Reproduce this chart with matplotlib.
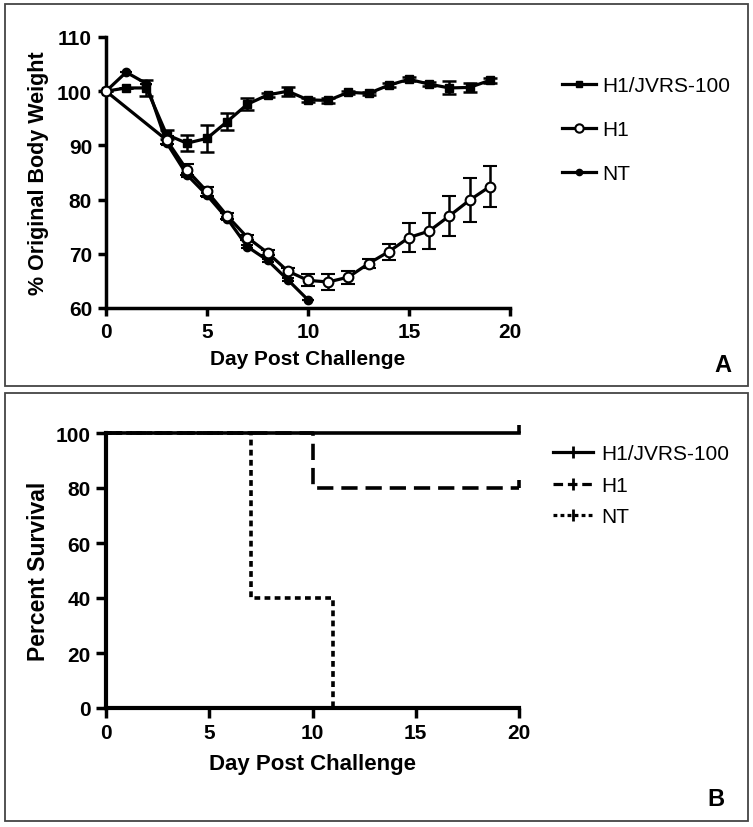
import matplotlib
matplotlib.use('Agg')
import matplotlib.pyplot as plt
from matplotlib.patches import Rectangle
from matplotlib.lines import Line2D

plt.rcParams['font.family'] = ['Liberation Sans', 'DejaVu Sans']

# panel A: body weight, % of original
days_jvrs = list(range(20))
wt_jvrs = [100, 100.6, 100.6, 92.0, 90.4, 91.3, 94.4, 97.6, 99.3, 100.0,
           98.4, 98.3, 99.8, 99.6, 101.1, 102.2, 101.3, 100.6, 100.7, 102.0]
err_jvrs = [0, 0, 1.4, 0.9, 1.5, 2.5, 1.6, 1.1, 0.4, 0.8,
            0.4, 0.4, 0.3, 0.3, 0.4, 0.4, 0.4, 1.2, 0.9, 0.4]

days_h1 = [0] + list(range(3, 20))
wt_h1 = [100, 91.0, 85.5, 81.5, 77.0, 73.0, 70.2, 66.8, 65.1, 64.8,
         65.7, 68.2, 70.4, 73.0, 74.2, 77.0, 79.9, 82.4]
err_h1 = [0, 0.8, 1.0, 0.8, 0.5, 0.5, 0.5, 0.5, 1.1, 1.4,
          1.2, 0.9, 1.5, 2.7, 3.3, 3.7, 4.0, 3.8]

days_nt = list(range(11))
wt_nt = [100, 103.5, 101.4, 90.5, 84.6, 80.8, 76.5, 71.3, 68.8, 65.2, 61.5]
err_nt = [0, 0, 0, 0.5, 0.4, 0.4, 0.3, 0.3, 0.3, 0.3, 0]

# panel B: survival
t_jvrs = [0, 20]; s_jvrs = [100, 100]
t_h1 = [0, 10, 20]; s_h1 = [100, 80, 80]
t_nt = [0, 7, 11]; s_nt = [100, 40, 0]

labels = ['H1/JVRS-100', 'H1', 'NT']

fig = plt.figure(figsize=(7.53, 8.28), dpi=100)
W, H = 753., 828.

# panel frames
for (x0, y0, x1, y1) in [(5, 5, 748, 387), (5, 394, 748, 822)]:
    fig.patches.append(Rectangle((x0/W, 1-y1/H), (x1-x0)/W, (y1-y0)/H,
                                 transform=fig.transFigure, fill=False,
                                 edgecolor='#444444', linewidth=1.3))

lw = 2.3
# ---------- A ----------
ax1 = fig.add_axes([106/W, 1-309/H, (510-106)/W, (309-38)/H])
ax1.errorbar(days_jvrs, wt_jvrs, yerr=err_jvrs, color='k', lw=lw, marker='s', ms=6,
             capsize=5, capthick=1.8, elinewidth=1.8, zorder=3, clip_on=False)
ax1.errorbar(days_h1, wt_h1, yerr=err_h1, color='k', lw=lw, marker='o', ms=7,
             mfc='white', mec='k', mew=1.5, capsize=5, capthick=1.8,
             elinewidth=1.8, zorder=4, clip_on=False)
ax1.errorbar(days_nt, wt_nt, yerr=err_nt, color='k', lw=lw, marker='o', ms=6,
             capsize=4, capthick=1.5, elinewidth=1.5, zorder=2, clip_on=False)
ax1.set_xlim(0, 20)
ax1.set_ylim(60, 110)
ax1.set_xticks([0, 5, 10, 15, 20])
ax1.set_yticks([60, 70, 80, 90, 100, 110])
for s in ['top', 'right']:
    ax1.spines[s].set_visible(False)
for s in ['left', 'bottom']:
    ax1.spines[s].set_linewidth(2.5)
ax1.tick_params(width=2.5, length=6, labelsize=15, pad=4)
for t in ax1.get_xticklabels() + ax1.get_yticklabels():
    t.set_fontweight('bold')
ax1.set_xlabel('Day Post Challenge', fontsize=15, fontweight='bold', labelpad=6)
ax1.set_ylabel('% Original Body Weight', fontsize=15.5, fontweight='bold', labelpad=6)
ha = [Line2D([], [], color='k', lw=lw, marker='s', ms=5),
      Line2D([], [], color='k', lw=lw, marker='o', ms=6, mfc='white', mew=1.5),
      Line2D([], [], color='k', lw=lw, marker='o', ms=4.5)]
fig.legend(ha, labels, loc='upper left', bbox_to_anchor=(554/W, 1-69/H), frameon=False,
           fontsize=15, handlelength=1.6, handletextpad=0.3, labelspacing=1.2,
           borderaxespad=0)
fig.text(723/W, 1-366/H, 'A', fontsize=17, fontweight='bold', ha='center', va='center')

# ---------- B ----------
ax2 = fig.add_axes([106/W, 1-709/H, (519-106)/W, (709-434)/H])
ax2.step(t_jvrs, s_jvrs, where='post', color='k', lw=2.6, clip_on=False)
ax2.step(t_h1, s_h1, where='post', color='k', lw=2.6, dashes=(4.5, 2.2), clip_on=False)
ax2.step(t_nt, s_nt, where='post', color='k', lw=2.6, dashes=(1.6, 1.2), clip_on=False)
# censored ticks at last follow-up
for t, s in [(t_jvrs[-1], s_jvrs[-1]), (t_h1[-1], s_h1[-1])]:
    ax2.plot([t, t], [s, s + 3], color='k', lw=2.6, clip_on=False, solid_capstyle='butt')
ax2.set_xlim(0, 20)
ax2.set_ylim(0, 100)
ax2.set_xticks([0, 5, 10, 15, 20])
ax2.set_yticks([0, 20, 40, 60, 80, 100])
for s in ['top', 'right']:
    ax2.spines[s].set_visible(False)
for s in ['left', 'bottom']:
    ax2.spines[s].set_linewidth(3)
ax2.tick_params(width=2.5, length=7, labelsize=15, pad=4)
for t in ax2.get_xticklabels() + ax2.get_yticklabels():
    t.set_fontweight('bold')
ax2.set_xlabel('Day Post Challenge', fontsize=16, fontweight='bold', labelpad=8)
ax2.set_ylabel('Percent Survival', fontsize=16.5, fontweight='bold', labelpad=4)
hb = [Line2D([], [], color='k', lw=lw, marker='|', ms=8, mew=2, markevery=[1]),
      Line2D([], [], color='k', lw=lw, dashes=(3, 1.5), marker='|', ms=8, mew=2, markevery=[1]),
      Line2D([], [], color='k', lw=lw, dashes=(1.2, 1), marker='|', ms=8, mew=2, markevery=[1])]
fig.legend(hb, labels, loc='upper left', bbox_to_anchor=(545/W, 1-437/H), frameon=False,
           fontsize=15, handlelength=1.9, handletextpad=0.4, labelspacing=0.6,
           borderaxespad=0)
fig.text(716/W, 1-800/H, 'B', fontsize=17, fontweight='bold', ha='center', va='center')

fig.savefig('out.png', dpi=100)
